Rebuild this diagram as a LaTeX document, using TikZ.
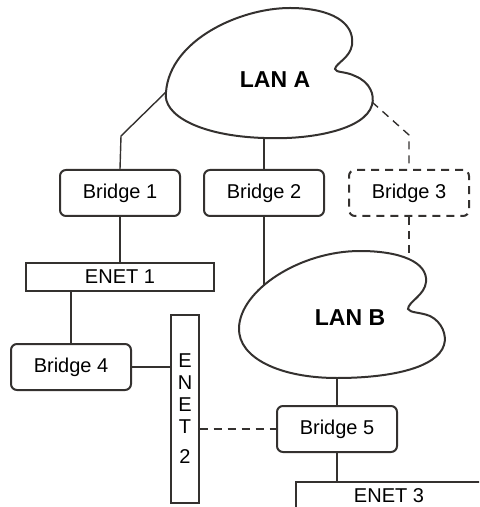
\documentclass[tikz,border=0pt]{standalone}
\usepackage{fontspec}
\setmainfont{Liberation Sans}
\usetikzlibrary{positioning}
\definecolor{linegray}{RGB}{52,49,47}
\tikzset{
  bridgebox/.style={draw=linegray, line width=1pt, rounded corners=3pt,
    minimum width=60pt, minimum height=23pt, inner sep=0pt,
    font=\fontsize{10}{12}\selectfont},
  enetbar/.style={draw=linegray, line width=0.6pt, inner sep=0pt,
    font=\fontsize{10}{11}\selectfont},
  lanshape/.style={draw=linegray, line width=1pt},
  lanlabel/.style={font=\bfseries\fontsize{11.5}{13}\selectfont},
  link/.style={draw=linegray, line width=0.7pt},
  dashlink/.style={link, dash pattern=on 4pt off 3pt}
}

\begin{document}
\begin{tikzpicture}[x=0.5pt, y=-0.5pt]
    \clip (0,0) rectangle (479,507);

    % the two LAN clouds
    \draw[lanshape] (166,92) .. controls (170,40) and (240,8) .. (290,8)
      .. controls (330,8) and (355,22) .. (352,45)
      .. controls (350,58) and (336,63) .. (335,69)
      .. controls (336,73) and (345,71) .. (355,76)
      .. controls (370,82) and (375,95) .. (372,105)
      .. controls (365,130) and (310,140) .. (264,138)
      .. controls (200,136) and (162,115) .. (166,92);
    \node[lanlabel] (lanA) at (275,80) {LAN A};
    \coordinate (lanAw) at (166,92);
    \coordinate (lanAs) at (264,138);
    \coordinate (lanAe) at (372,102);

    \draw[lanshape] (239,328) .. controls (240,290) and (300,251) .. (360,251)
      .. controls (400,251) and (428,262) .. (426,282)
      .. controls (425,295) and (408,302) .. (408,309)
      .. controls (410,313) and (420,312) .. (430,316)
      .. controls (442,322) and (447,335) .. (444,345)
      .. controls (437,368) and (390,378) .. (337,378)
      .. controls (280,378) and (238,358) .. (239,328);
    \node[lanlabel] (lanB) at (350,318) {LAN B};
    \coordinate (lanBw) at (264,286);
    \coordinate (lanBn) at (409,258);
    \coordinate (lanBs) at (337,378);

    % bridges and ethernet segments
    \node[bridgebox] (bridge1) at (120,193) {Bridge 1};
    \node[bridgebox] (bridge2) at (264,193) {Bridge 2};
    \node[bridgebox, dash pattern=on 4pt off 3pt] (bridge3) at (409,193) {Bridge 3};
    \node[bridgebox] (bridge4) at (71,367) {Bridge 4};
    \node[bridgebox] (bridge5) at (337,429) {Bridge 5};

    \node[enetbar, minimum width=94pt, minimum height=14pt] (enet1) at (120,277) {ENET 1};
    \node[enetbar, minimum width=14pt, minimum height=94pt, align=center] (enet2) at (185,409)
      {E\\N\\E\\T\\[4pt]2};
    \node[enetbar, minimum width=93pt, minimum height=14pt] (enet3) at (389,496) {ENET 3};

    % links
    \coordinate (bendA) at (121,136);
    \coordinate (bendC) at (409,135);
    \draw[link] (lanAw) -- (bendA) -- (bridge1.north);
    \draw[link] (lanAs) -- (bridge2.north);
    \draw[dashlink] (lanAe) -- (bendC) -- (bridge3.north);
    \draw[link] (bridge2.south) -- (lanBw);
    \draw[dashlink] (bridge3.south) -- (lanBn);
    \draw[link] (bridge1.south) -- (enet1.north);
    \draw[link] (bridge4.north) -- (bridge4.north |- enet1.south);
    \draw[link] (bridge4.east) -- (bridge4.east -| enet2.west);
    \draw[dashlink] (enet2.east |- bridge5.west) -- (bridge5.west);
    \draw[link] (lanBs) -- (bridge5.north);
    \draw[link] (bridge5.south) -- (bridge5.south |- enet3.north);
  \end{tikzpicture}
\end{document}
